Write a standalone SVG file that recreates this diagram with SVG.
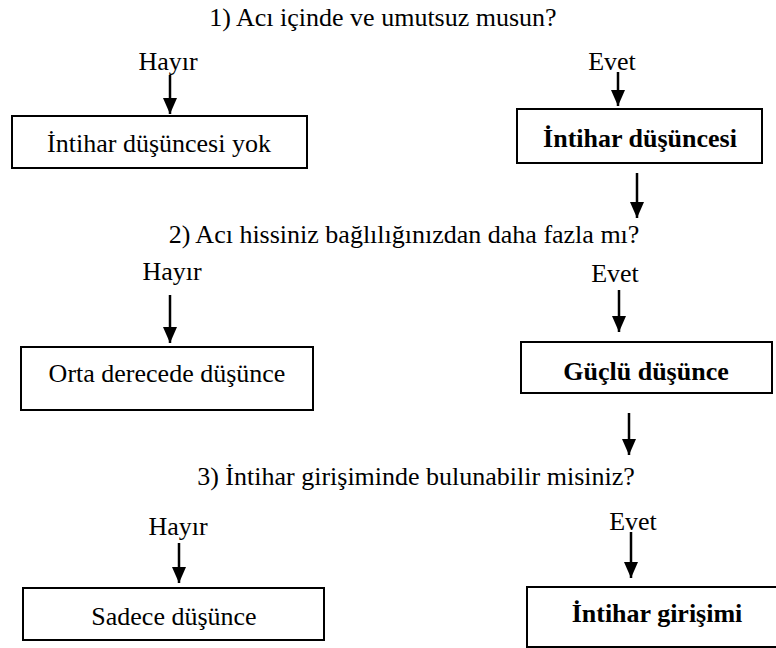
<svg xmlns="http://www.w3.org/2000/svg" width="776" height="648" viewBox="0 0 776 648">
<style>
text{font-family:'Liberation Serif','Times New Roman',Times,serif;font-size:26px;fill:#000;text-anchor:middle}
.b{font-weight:bold}
.box{fill:#fff;stroke:#000;stroke-width:2}
.arr{stroke:#000;stroke-width:2.5;fill:none;marker-end:url(#ah)}
</style>
<defs>
<marker id="ah" viewBox="0 0 16 14" refX="16" refY="7" markerWidth="16" markerHeight="14" markerUnits="userSpaceOnUse" orient="auto">
<path d="M0,0 L16,7 L0,14 Z" fill="#000"/>
</marker>
</defs>
<rect width="776" height="648" fill="#fff"/>
<g font-family="Liberation Serif, serif">
<g id="q1"><text x="383" y="26">1) Acı içinde ve umutsuz musun?</text></g>
<g id="q2"><text x="404" y="243">2) Acı hissiniz bağlılığınızdan daha fazla mı?</text></g>
<g id="q3"><text x="416" y="485">3) İntihar girişiminde bulunabilir misiniz?</text></g>
<g id="l1"><text x="168" y="70">Hayır</text></g>
<g id="l2"><text x="612" y="70">Evet</text></g>
<g id="l3"><text x="172" y="280">Hayır</text></g>
<g id="l4"><text x="615" y="282">Evet</text></g>
<g id="l5"><text x="178" y="535">Hayır</text></g>
<g id="l6"><text x="633" y="530">Evet</text></g>
<g id="n1"><rect class="box" x="12" y="116" width="295" height="52"/><text x="159" y="152">İntihar düşüncesi yok</text></g>
<g id="n2"><rect class="box" x="517" y="109" width="245" height="54"/><text class="b" x="640" y="147">İntihar düşüncesi</text></g>
<g id="n3"><rect class="box" x="21" y="347" width="292" height="63"/><text x="167" y="382">Orta derecede düşünce</text></g>
<g id="n4"><rect class="box" x="521" y="342" width="251" height="51"/><text class="b" x="646" y="380">Güçlü düşünce</text></g>
<g id="n5"><rect class="box" x="23" y="588" width="301" height="52"/><text x="174" y="625">Sadece düşünce</text></g>
<g id="n6"><rect class="box" x="527" y="587" width="260" height="60"/><text class="b" x="657" y="622">İntihar girişimi</text></g>
</g>
<g id="connectors">
<line class="arr" x1="170" y1="75" x2="170" y2="114"/>
<line class="arr" x1="618" y1="72" x2="618" y2="106"/>
<line class="arr" x1="637" y1="173" x2="637" y2="218"/>
<line class="arr" x1="170" y1="295" x2="170" y2="343"/>
<line class="arr" x1="619" y1="290" x2="619" y2="332"/>
<line class="arr" x1="629" y1="413" x2="629" y2="455"/>
<line class="arr" x1="179" y1="543" x2="179" y2="583"/>
<line class="arr" x1="631" y1="532" x2="631" y2="578"/>
</g>
</svg>
